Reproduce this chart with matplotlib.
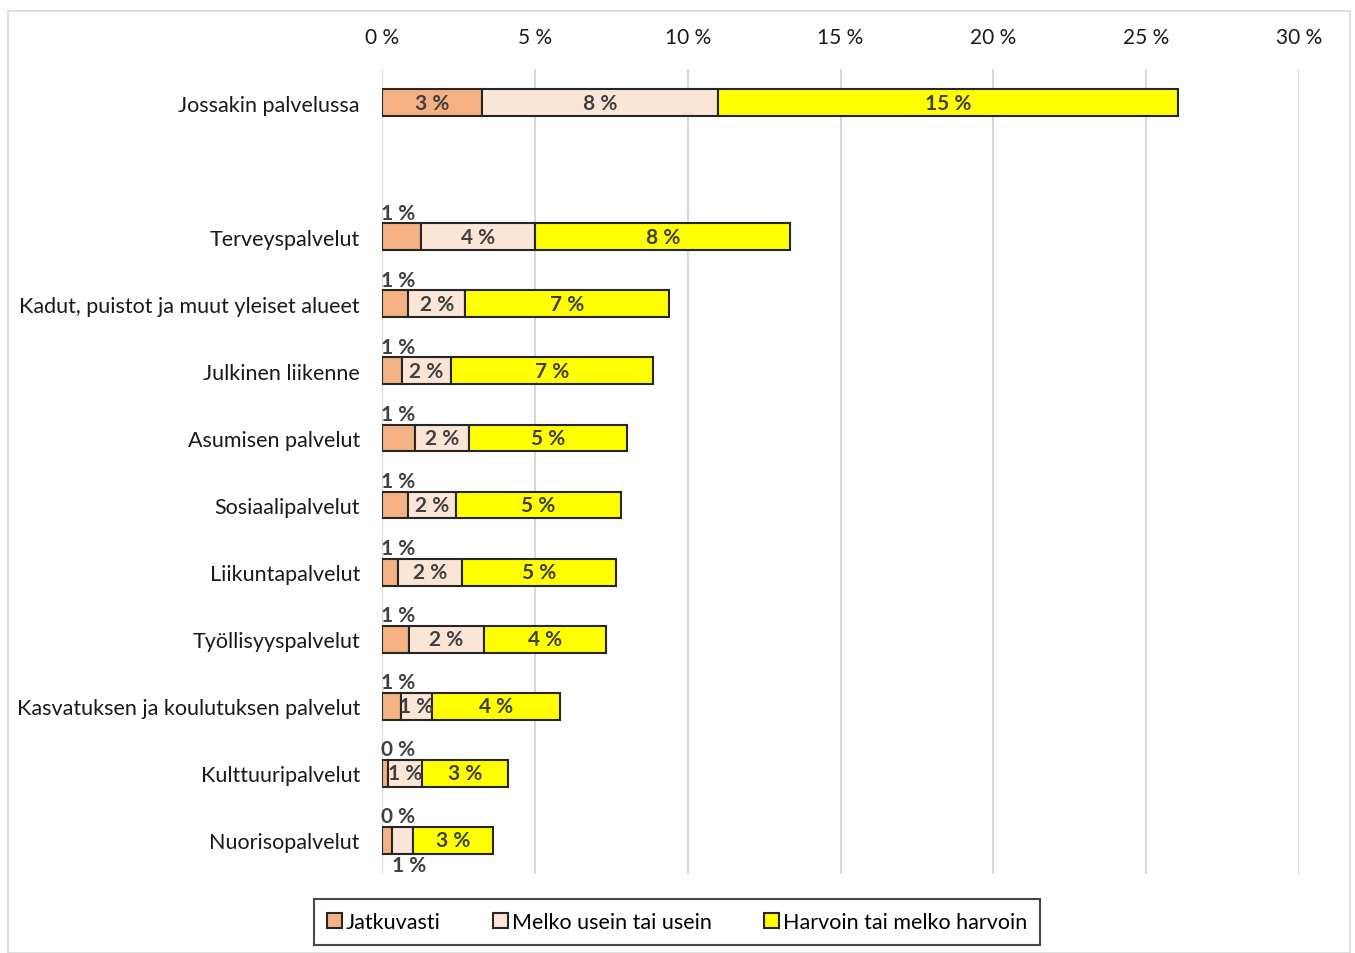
import matplotlib.pyplot as plt
from matplotlib.patches import Rectangle

categories = ['Jossakin palvelussa', '', 'Terveyspalvelut',
              'Kadut, puistot ja muut yleiset alueet', 'Julkinen liikenne',
              'Asumisen palvelut', 'Sosiaalipalvelut', 'Liikuntapalvelut',
              'Työllisyyspalvelut', 'Kasvatuksen ja koulutuksen palvelut',
              'Kulttuuripalvelut', 'Nuorisopalvelut']
jatkuvasti = [3.27, 0, 1.28, 0.85, 0.65, 1.08, 0.85, 0.52, 0.88, 0.62, 0.20, 0.33]
melko_usein = [7.72, 0, 3.73, 1.87, 1.60, 1.77, 1.57, 2.09, 2.45, 1.01, 1.11, 0.69]
harvoin = [15.05, 0, 8.34, 6.67, 6.60, 5.17, 5.40, 5.04, 3.99, 4.19, 2.81, 2.62]
series_names = ['Jatkuvasti', 'Melko usein tai usein', 'Harvoin tai melko harvoin']
colors = ['#F4B183', '#FBE5D6', '#FFFF00']
xticks = [0, 5, 10, 15, 20, 25, 30]

plt.rcParams['font.family'] = ['Lato', 'DejaVu Sans']
txt = '#404040'

fig = plt.figure(figsize=(13.55, 9.54), dpi=100)
ax = fig.add_axes([0.282, 0.0828, 0.9587 - 0.282, 0.9266 - 0.0828])

pos = list(range(len(categories)))
rows = [i for i in pos if categories[i] != '']
h = 0.4
left = [0] * len(pos)
for vals, col, name in zip([jatkuvasti, melko_usein, harvoin], colors, series_names):
    ax.barh(rows, [vals[i] for i in rows], left=[left[i] for i in rows], height=h,
            color=col, edgecolor='#262626', linewidth=1.5, label=name, zorder=3)
    left = [a + b for a, b in zip(left, vals)]

# value labels
for i in rows:
    a, b, c = jatkuvasti[i], melko_usein[i], harvoin[i]
    kw = dict(fontsize=15, fontweight='bold', color=txt, va='center', zorder=4)
    if i == 0:
        ax.text(a / 2, i, f'{a:.0f} %', ha='center', **kw)
    else:
        ax.text(-0.05, i - 0.36, f'{a:.0f} %', ha='left', **kw)
    if i == len(pos) - 1:
        ax.text(a + b / 2 + 0.2, i + 0.36, f'{b:.0f} %', ha='center', **kw)
    else:
        ax.text(a + b / 2, i, f'{b:.0f} %', ha='center', **kw)
    ax.text(a + b + c / 2, i, f'{c:.0f} %', ha='center', **kw)

ax.set_xlim(0, 30)
ax.set_ylim(11.5, -0.5)
ax.set_yticks(pos)
ax.set_yticklabels(categories, fontsize=15.5, color='#1a1a1a')
ax.set_xticks(xticks)
ax.set_xticklabels([f'{t} %' for t in xticks], fontsize=15, color='#1a1a1a')
ax.xaxis.tick_top()
ax.tick_params(axis='x', length=0, pad=16)
ax.tick_params(axis='y', length=0, pad=16)
ax.grid(axis='x', color='#d9d9d9', linewidth=1.5, zorder=0)
for s in ax.spines.values():
    s.set_visible(False)

leg = fig.legend(loc='center', bbox_to_anchor=(677 / 1355, 1 - 923 / 954), ncol=3,
                 fontsize=15.5, frameon=True, fancybox=False, edgecolor='#1a1a1a',
                 handlelength=0.7, handleheight=0.7, handletextpad=0.2,
                 columnspacing=2.4, borderpad=0.6, borderaxespad=0)
leg.get_frame().set_linewidth(1.5)
for p in leg.get_patches():
    p.set_edgecolor('#262626')

fig.patches.append(Rectangle((8 / 1355, 0), (1350 - 8) / 1355, 1 - 12 / 954,
                             transform=fig.transFigure, fill=False,
                             edgecolor='#d9d9d9', linewidth=1.2))

fig.savefig('out.png', dpi=100)
